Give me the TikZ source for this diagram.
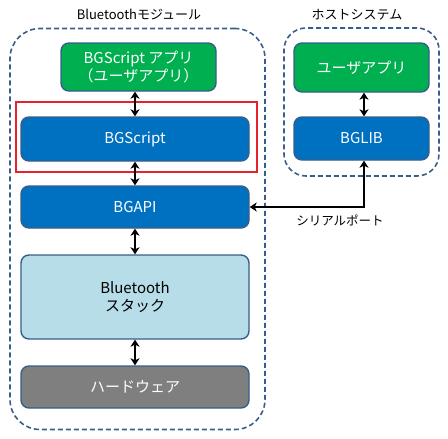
\documentclass[tikz,border=0pt]{standalone}
\usepackage{fontspec}
\setmainfont{Noto Sans CJK JP}
\usetikzlibrary{arrows.meta}
\definecolor{bgreen}{HTML}{00B050}
\definecolor{bblue}{HTML}{0070C0}
\definecolor{blight}{HTML}{B7DEE8}
\definecolor{bgray}{HTML}{7F7F7F}
\definecolor{bedge}{HTML}{385D8A}
\definecolor{bred}{HTML}{E8222A}
\tikzset{
  box/.style={draw=bedge, line width=1.4pt, rounded corners=8pt, align=center, inner sep=0pt, font=\fontsize{15}{18}\selectfont},
  container/.style={draw=bedge, line width=1.6pt, dash pattern=on 5pt off 3pt, rounded corners=30pt},
  dbl/.style={{Stealth[length=7pt,width=9pt,inset=2pt]}-{Stealth[length=7pt,width=9pt,inset=2pt]}, line width=2pt, black},
  title/.style={font=\fontsize{13}{15}\selectfont}
}
\begin{document}
\begin{tikzpicture}[x=1pt,y=1pt]
\useasboundingbox (0,0) rectangle (448,-439);
% containers
\node[container, minimum width=255pt, minimum height=401pt] (lcont) at (137.5,-229) {};
\node[container, minimum width=155pt, minimum height=148pt, rounded corners=22pt] (rcont) at (361.5,-102) {};
\node[title] (ltitle) at (139,-15) {Bluetoothモジュール};
\node[title] (rtitle) at (357,-15) {ホストシステム};
% left boxes
\node[box, fill=bgreen, text=white, minimum width=155pt, minimum height=48pt] (green) at (138.5,-67) {BGScript アプリ\\（ユーザアプリ）};
\node[draw=bred, line width=2.6pt, minimum width=241pt, minimum height=70pt, inner sep=0pt] (red) at (136.5,-137) {};
\node[box, fill=bblue, text=white, minimum width=228pt, minimum height=44pt] (bgscript) at (135,-139) {BGScript};
\node[box, fill=bblue, text=white, minimum width=228pt, minimum height=42pt] (bgapi) at (135,-207) {BGAPI};
\node[box, fill=blight, text=black, minimum width=228pt, minimum height=84pt] (stack) at (135,-297) {Bluetooth\\スタック};
\node[box, fill=bgray, text=white, minimum width=228pt, minimum height=42pt] (hw) at (135,-387) {ハードウェア};
% right boxes
\node[box, fill=bgreen, text=white, minimum width=135pt, minimum height=49pt] (uapp) at (361.5,-67.5) {ユーザアプリ};
\node[box, fill=bblue, text=white, minimum width=135pt, minimum height=43pt] (bglib) at (361.5,-138.5) {BGLIB};
% arrows
\draw[dbl] (bgscript.north |- green.south) -- (bgscript.north);
\draw[dbl] (bgscript.south) -- (bgapi.north);
\draw[dbl] (bgapi.south) -- (stack.north);
\draw[dbl] (stack.south) -- (hw.north);
\draw[dbl] (uapp.south -| 364,0) -- (bglib.north -| 364,0);
\coordinate (sp) at (364,-207);
\draw[dbl] (bglib.south -| sp) -- (sp) -- (bgapi.east);
\node[title, font=\fontsize{12.5}{14}\selectfont] (splabel) at (340,-220) {シリアルポート};
\end{tikzpicture}
\end{document}
